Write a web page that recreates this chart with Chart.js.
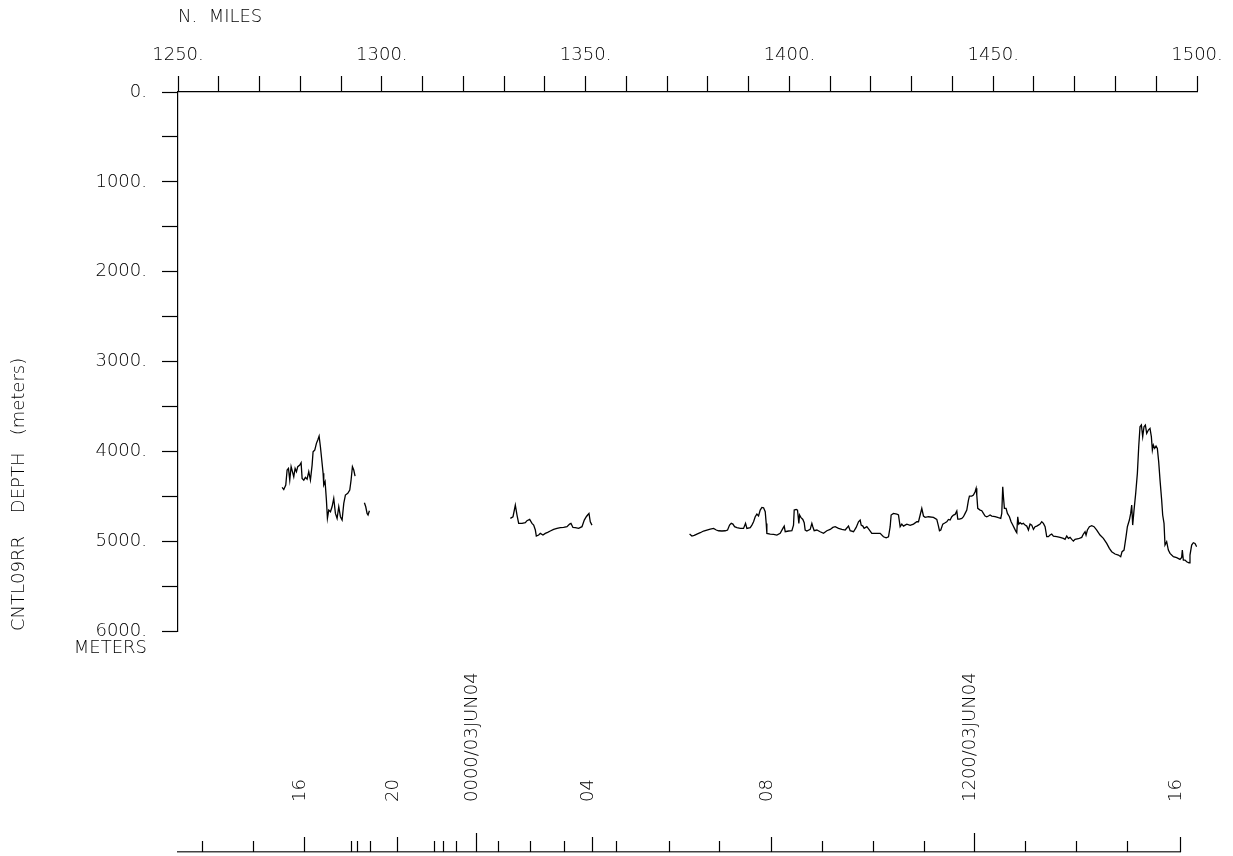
<!DOCTYPE html>
<html>
<head>
<meta charset="utf-8">
<script src="https://cdn.jsdelivr.net/npm/chart.js@4.4.1/dist/chart.umd.min.js"></script>
<style>
  html, body { margin: 0; padding: 0; background: #fff; }
  #wrap { position: relative; width: 1233px; height: 856px; }
  #wrap canvas { position: absolute; left: 0; top: 0; }
</style>
</head>
<body>
<div id="wrap">
  <canvas id="profile" width="1233" height="856"></canvas>
  <canvas id="timeline" width="1233" height="856"></canvas>
</div>
<script>
// bathymetry track, N. miles along track vs depth (m)
const legAMiles = [1275.54,1275.95,1276.44,1276.77,1277.10,1277.42,1277.75,1278.08,1278.40,1278.73,
  1279.06,1279.38,1279.88,1280.20,1280.45,1280.86,1281.26,1281.67,1282.08,1282.49,
  1282.90,1283.14,1283.55,1283.96,1284.29,1284.62,1284.94,1285.27,1285.60,1285.76,
  1286.09,1286.41,1286.66,1286.99,1287.40,1287.80,1288.21,1288.62,1289.03,1289.44,
  1289.85,1290.26,1290.67,1291.07,1291.65,1292.14,1292.46,1292.79,1293.12,1293.44];
const legADepth = [4401,4424,4375,4208,4190,4320,4171,4227,4283,4190,
  4227,4171,4153,4127,4301,4320,4290,4309,4227,4320,
  4153,4004,3986,3911,3874,3830,3949,4097,4245,4375,
  4338,4542,4746,4654,4672,4617,4524,4691,4746,4617,
  4728,4765,4579,4487,4468,4431,4320,4171,4208,4275];

const legBMiles = [1295.73,1296.06,1296.39,1296.63,1296.96];
const legBDepth = [4572,4617,4691,4709,4661];

const legCMiles = [1331.54,1332.19,1332.76,1333.17,1333.58,1334.40,1335.21,1335.62,1336.28,1336.85,
  1337.26,1337.67,1337.91,1338.48,1338.89,1339.54,1340.11,1340.69,1341.34,1342.16,
  1342.98,1343.80,1344.61,1345.43,1346.08,1346.41,1346.90,1347.47,1348.29,1349.11,
  1349.68,1350.17,1350.50,1350.83,1351.15,1351.56];
const legCDepth = [4746,4728,4598,4709,4802,4802,4795,4772,4758,4802,
  4821,4876,4943,4932,4913,4932,4913,4902,4887,4869,
  4858,4850,4847,4839,4810,4802,4847,4850,4858,4839,
  4765,4728,4709,4691,4784,4821];

const legDMiles = [1375.51,1376.08,1376.66,1377.31,1378.13,1378.94,1379.76,1380.58,1381.40,1382.05,
  1382.62,1383.44,1384.26,1384.83,1385.32,1385.73,1386.14,1386.55,1387.12,1387.94,
  1388.75,1389.24,1389.57,1390.39,1390.80,1391.21,1391.61,1392.02,1392.43,1392.84,
  1393.25,1393.66,1394.07,1394.31,1394.47,1395.29,1396.11,1396.93,1397.74,1398.40,
  1398.73,1398.97,1399.79,1400.61,1401.01,1401.18,1401.67,1401.99,1402.32,1402.49,
  1402.81,1403.30,1403.63,1403.87,1404.28,1405.10,1405.51,1405.75,1406.08,1406.74,
  1407.55,1408.37,1409.19,1410.01,1410.66,1411.23,1412.05,1412.87,1413.68,1414.50,
  1414.91,1415.73,1416.38,1416.95,1417.36,1417.61,1418.02,1418.34,1419.00,1419.65,
  1420.22,1421.04,1421.86,1422.27,1423.08,1423.74,1424.31,1424.72,1424.96,1425.54,
  1426.35,1426.76,1427.17,1427.58,1427.99,1428.40,1428.81,1429.62,1430.44,1431.26,
  1431.67,1432.08,1432.48,1432.89,1433.30,1434.12,1435.34,1436.16,1436.57,1436.82,
  1437.14,1437.63,1438.21,1438.61,1439.02,1439.43,1439.84,1440.25,1440.66,1441.07,
  1441.31,1441.72,1442.29,1442.70,1443.11,1443.52,1443.93];
const legDDepth = [4921,4943,4936,4921,4906,4887,4876,4865,4858,4876,
  4884,4887,4884,4876,4821,4802,4810,4839,4850,4858,
  4858,4802,4858,4850,4821,4784,4728,4698,4720,4654,
  4624,4628,4672,4802,4913,4921,4925,4932,4913,4858,
  4832,4895,4887,4884,4821,4654,4646,4654,4802,4709,
  4735,4758,4795,4876,4887,4869,4802,4839,4884,4876,
  4895,4913,4884,4869,4847,4839,4858,4869,4876,4832,
  4884,4895,4847,4784,4765,4821,4832,4858,4839,4876,
  4913,4913,4913,4913,4951,4962,4951,4839,4709,4691,
  4698,4709,4839,4810,4832,4821,4810,4824,4810,4784,
  4784,4709,4635,4720,4735,4728,4735,4758,4832,4884,
  4876,4810,4795,4784,4758,4765,4728,4709,4702,4665,
  4754,4754,4746,4728,4691,4654,4542];

// continues leg D without a break
const legEMiles = [1444.17,1444.74,1445.15,1445.56,1445.81,1445.97,1446.21,1446.79,1447.20,1447.60,
  1448.01,1448.42,1448.83,1449.24,1449.65,1450.46,1451.28,1451.85,1452.10,1452.34,
  1452.51,1452.75,1453.16,1453.49,1453.98,1454.39,1454.80,1455.21,1455.61,1455.78,
  1456.02,1456.27,1456.60,1457.00,1457.41,1457.82,1458.23,1458.64,1459.05,1459.46,
  1459.87,1460.27,1460.68,1461.09,1461.50,1461.91,1462.32,1462.73,1463.13,1463.54,
  1463.95,1464.36,1464.77,1465.59,1466.40,1467.22,1467.63,1468.04,1468.45,1468.86,
  1469.27,1469.67,1470.08,1470.90,1471.72,1472.13,1472.54,1472.78,1473.11,1473.60,
  1474.17,1474.74,1475.40,1476.21,1477.03,1477.85,1478.50,1479.07,1479.89,1480.71,
  1481.28,1481.61,1482.10,1482.59,1482.92,1483.41,1483.73,1483.98,1484.22,1484.55,
  1484.96,1485.37,1485.70,1486.02,1486.35,1486.68,1487.00,1487.33,1487.66,1488.07,
  1488.47,1488.80,1489.05,1489.29,1489.62,1489.95,1490.27,1490.60,1490.93,1491.33,
  1491.58,1491.91,1492.15,1492.56,1492.97,1493.38,1494.20,1495.01,1495.83,1496.24,
  1496.40,1496.65,1497.06,1497.47,1498.04,1498.28,1498.69,1499.10,1499.51,1499.92];
const legEDepth = [4498,4498,4487,4450,4412,4487,4635,4654,4661,4691,
  4720,4728,4720,4709,4720,4728,4739,4746,4691,4394,
  4505,4635,4635,4691,4728,4783,4821,4858,4895,4906,
  4728,4810,4795,4810,4802,4821,4832,4876,4810,4821,
  4869,4839,4832,4821,4810,4783,4802,4839,4950,4950,
  4932,4921,4943,4950,4958,4969,4980,4943,4969,4958,
  4980,4999,4980,4973,4958,4921,4895,4932,4876,4839,
  4828,4839,4876,4932,4969,5025,5080,5117,5143,5155,
  5173,5117,5099,4950,4839,4765,4691,4598,4821,4654,
  4468,4245,3949,3726,3707,3837,3726,3707,3800,3763,
  3744,3837,3986,3930,3967,3941,3967,4116,4320,4542,
  4709,4802,5043,5006,5099,5136,5173,5184,5203,5181,
  5099,5210,5210,5229,5240,5155,5043,5017,5025,5062];

// hourly time marks along the track (position in N. miles)
const hourMiles = [1255.8,1268.3,1280.8,1292.5,1294.0,1297.0,1303.8,1312.7,1315.1,1318.3,
  1323.2,1328.6,1336.4,1344.8,1351.6,1357.5,1370.4,1382.8,1395.4,1408.0,
  1420.5,1432.9,1445.3,1457.7,1470.2,1482.8,1495.8];
const hourLabels = ['','','16','','','','20','','','',
  '0000/03JUN04','','','','04','','','','08','','',
  '','1200/03JUN04','','','','16'];

const milesMin = 1250, milesMax = 1500;
const depthMax = 6000;

Chart.defaults.font.family = "'DejaVu Sans', sans-serif";
Chart.defaults.font.size = 18;
Chart.defaults.font.weight = 200;
Chart.defaults.color = '#000';
Chart.defaults.animation = false;

const legs = [
  [legAMiles, legADepth],
  [legBMiles, legBDepth],
  [legCMiles, legCDepth],
  [legDMiles.concat(legEMiles), legDDepth.concat(legEDepth)]
];

// depth runs downward: plotted as negative height, labels show positive depth
new Chart(document.getElementById('profile'), {
  type: 'line',
  data: {
    datasets: legs.map(([m, d]) => ({
      data: m.map((x, i) => ({ x: x, y: -d[i] })),
      borderColor: '#000',
      borderWidth: 1.3,
      pointRadius: 0,
      tension: 0,
      fill: false
    }))
  },
  options: {
    responsive: false,
    layout: { padding: { left: 0, top: 0, right: 36, bottom: 225 } },
    plugins: { legend: { display: false }, tooltip: { enabled: false } },
    scales: {
      x: {
        type: 'linear', position: 'top', min: milesMin, max: milesMax,
        afterFit: s => { s.height = 92; },
        ticks: { stepSize: 10, autoSkip: false, maxRotation: 0, padding: 10,
          callback: v => v % 50 === 0 ? v + '.' : '' },
        grid: { drawOnChartArea: false, color: '#000', tickLength: 16, tickWidth: 1.2 },
        border: { color: '#000', width: 1.2 },
        title: { display: true, text: 'N.  MILES', align: 'start', padding: { top: 7, bottom: 0 } }
      },
      y: {
        type: 'linear', min: -depthMax, max: 0,
        afterFit: s => { s.width = 178; },
        ticks: { stepSize: 500, autoSkip: false, padding: 15, font: { lineHeight: 0.95 },
          callback: v => {
            const d = Math.abs(v);
            if (d % 1000 !== 0) return '';
            return d === depthMax ? ['', d + '.', 'METERS'] : d + '.';
          } },
        grid: { drawOnChartArea: false, color: '#000', tickLength: 16, tickWidth: 1.2 },
        border: { color: '#000', width: 1.2 },
        title: { display: true, text: 'CNTL09RR    DEPTH   (meters)', align: 'start', padding: { top: 9, bottom: 0 } }
      }
    }
  }
});

// time axis under the profile: tick height by rank of the mark
const hourTicks = {
  id: 'hourTicks',
  afterDraw(chart) {
    const s = chart.scales.x, ctx = chart.ctx, base = s.bottom;
    ctx.save();
    ctx.strokeStyle = '#000';
    ctx.lineWidth = 1.2;
    hourMiles.forEach((m, i) => {
      const lab = hourLabels[i];
      const len = lab === '' ? 11 : (lab.indexOf('/') > 0 ? 19 : 15);
      const px = Math.round(s.getPixelForValue(m)) + 0.5;
      ctx.beginPath();
      ctx.moveTo(px, base);
      ctx.lineTo(px, base - len);
      ctx.stroke();
    });
    ctx.restore();
  }
};

new Chart(document.getElementById('timeline'), {
  type: 'line',
  data: { datasets: [] },
  options: {
    responsive: false,
    layout: { padding: { left: 178, top: 640, right: 1233 - 1180, bottom: 0 } },
    plugins: { legend: { display: false }, tooltip: { enabled: false } },
    scales: {
      x: {
        type: 'linear', position: 'top', min: milesMin, max: hourMiles[hourMiles.length - 1],
        afterFit: s => { s.height = 212; },
        afterBuildTicks: s => { s.ticks = hourMiles.map(v => ({ value: v })); },
        ticks: { autoSkip: false, minRotation: 90, maxRotation: 90, padding: 31, labelOffset: 18,
          callback: (v, i) => hourLabels[i] },
        grid: { display: false, drawTicks: true, tickLength: 19 },
        border: { display: true, color: '#444', width: 1.5 }
      },
      y: { display: false }
    }
  },
  plugins: [hourTicks]
});
</script>
</body>
</html>
